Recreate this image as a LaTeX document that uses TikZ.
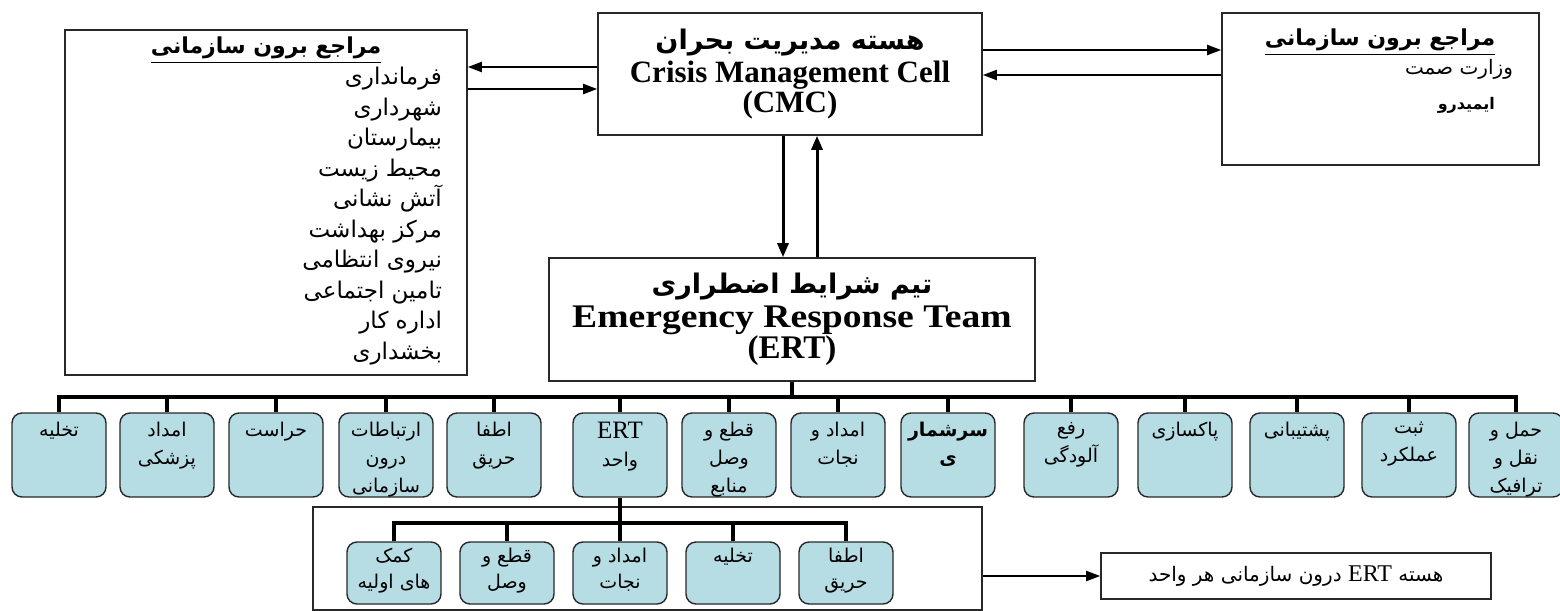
\documentclass[tikz,border=0pt]{standalone}
\usepackage{fontspec}
\usepackage{graphicx}
\setmainfont{Liberation Serif}
\newfontfamily\farsi[Script=Arabic]{DejaVu Sans}
\TeXXeTstate=1
\usetikzlibrary{arrows.meta, positioning, calc}
\definecolor{unitfill}{RGB}{183,221,228}
\definecolor{edge}{RGB}{40,40,40}
\newcommand{\rl}[1]{\leavevmode\beginR #1\endR}
\newcommand{\fab}[1]{{\farsi\bfseries\beginR #1\endR}}
\newcommand{\cell}[2][45pt]{\parbox[t][33pt][t]{#1}{\centering\farsi\fontsize{9.5}{14}\selectfont #2}}
\newcommand{\subcell}[1]{\parbox[t][25pt][t]{45pt}{\centering\farsi\fontsize{9.5}{13}\selectfont #1}}

\begin{document}
\begin{tikzpicture}[
    x=0.5pt, y=-0.5pt,
    refbox/.style={rectangle, draw=edge, line width=0.8pt, fill=white, inner sep=0pt},
    unit/.style={rectangle, draw=edge, line width=0.7pt, rounded corners=5pt, fill=unitfill, minimum width=47pt, inner xsep=1pt, inner ysep=4.5pt},
    subunit/.style={unit, inner ysep=3pt},
    arr/.style={-{Triangle[length=7pt,width=5pt]}, line width=1pt},
    varr/.style={-{Triangle[length=7pt,width=5.5pt]}, line width=1.5pt},
    branch/.style={line width=2pt}
]
\useasboundingbox (0,0) rectangle (1560,611);

% external references, left
\node[refbox, minimum width=201pt, minimum height=172.5pt] (extl) at (266,202.5) {};
\node[font=\fontsize{11}{13}\selectfont] (extltitle) at (266,50) {\underline{\fab{مراجع برون سازمانی}\rule[-3pt]{0pt}{0pt}}};
\node[font=\farsi\fontsize{11.5}{15.25}\selectfont, align=right, anchor=north east] (extllist) at (449,60)
    {\rl{فرمانداری}\\\rl{شهرداری}\\\rl{بیمارستان}\\\rl{محیط زیست}\\\rl{آتش نشانی}\\\rl{مرکز بهداشت}\\\rl{نیروی انتظامی}\\\rl{تامین اجتماعی}\\\rl{اداره کار}\\\rl{بخشداری}};

% crisis management cell
\node[refbox, minimum width=192pt, minimum height=61pt, align=center, font=\fontsize{15.5}{15}\selectfont] (cmc) at (790,74)
    {{\fontsize{13.5}{15}\selectfont\fab{هسته مدیریت بحران}}\\[1.5pt]{\bfseries Crisis Management Cell}\\{\bfseries (CMC)}};

% external references, right
\node[refbox, minimum width=158.5pt, minimum height=76pt] (extr) at (1380.5,89) {};
\node[font=\fontsize{11}{13}\selectfont] (extrtitle) at (1380,42) {\underline{\fab{مراجع برون سازمانی}\rule[-3pt]{0pt}{0pt}}};
\node[font=\farsi\fontsize{10}{12}\selectfont, anchor=east] (extr1) at (1520,69) {\rl{وزارت صمت}};
\node[font=\farsi\bfseries\fontsize{8}{10}\selectfont, anchor=east] (extr2) at (1502,105) {\rl{ایمیدرو}};

% emergency response team
\node[refbox, minimum width=243pt, minimum height=61.5pt, align=center, font=\fontsize{16.5}{15.5}\selectfont] (ert) at (792,319.5)
    {{\fontsize{13.5}{15}\selectfont\fab{تیم شرایط اضطراری}}\\[1.5pt]\scalebox{1.14}[1]{\bfseries Emergency Response Team}\\{\bfseries (ERT)}};

\draw[arr] (cmc.west |- 0,67) -- (extl.east |- 0,67);
\draw[arr] (extl.east |- 0,89) -- (cmc.west |- 0,89);
\draw[arr] (cmc.east |- 0,50) -- (extr.west |- 0,50);
\draw[arr] (extr.west |- 0,75) -- (cmc.east |- 0,75);
\draw[varr] (cmc.south -| 783,0) -- (ert.north -| 783,0);
\draw[varr] (ert.north -| 817,0) -- (cmc.south -| 817,0);

% ERT units
\node[unit] (u1) at (59,455) {\cell{\rl{تخلیه}}};
\node[unit] (u2) at (167,455) {\cell{\rl{امداد}\\\rl{پزشکی}}};
\node[unit] (u3) at (276,455) {\cell{\rl{حراست}}};
\node[unit] (u4) at (386,455) {\cell{\rl{ارتباطات}\\\rl{درون}\\\rl{سازمانی}}};
\node[unit] (u5) at (494,455) {\cell{\rl{اطفا}\\\rl{حریق}}};
\node[unit] (u6) at (620,455) {\cell{{\rmfamily\fontsize{12.5}{12}\selectfont ERT}\\\rl{واحد}}};
\node[unit] (u7) at (729,455) {\cell{\rl{قطع و}\\\rl{وصل}\\\rl{منابع}}};
\node[unit] (u8) at (838,455) {\cell{\rl{امداد و}\\\rl{نجات}}};
\node[unit] (u9) at (948,455) {\cell{\bfseries\rl{سرشمار}\\\rl{ی}}};
\node[unit] (u10) at (1071,455) {\cell{\rl{رفع}\\\rl{آلودگی}}};
\node[unit] (u11) at (1185,455) {\cell{\rl{پاکسازی}}};
\node[unit] (u12) at (1297,455) {\cell{\rl{پشتیبانی}}};
\node[unit] (u13) at (1409,455) {\cell{\rl{ثبت}\\\rl{عملکرد}}};
\node[unit] (u14) at (1516,455) {\cell[41pt]{\rl{حمل و}\\\rl{نقل و}\\\rl{ترافیک}}};

\coordinate (bus) at (ert.south |- 0,397);
\draw[branch] (ert.south) -- (bus);
\draw[branch] (bus) -| (u1.north) (bus) -| (u2.north) (bus) -| (u3.north) (bus) -| (u4.north)
    (bus) -| (u5.north) (bus) -| (u6.north) (bus) -| (u7.north) (bus) -| (u8.north)
    (bus) -| (u9.north) (bus) -| (u10.north) (bus) -| (u11.north) (bus) -| (u12.north)
    (bus) -| (u13.north) (bus) -| (u14.north);

% ERT core inside each unit
\node[refbox, minimum width=334.5pt, minimum height=51.5pt] (subframe) at (647.5,558.5) {};
\node[subunit] (s1) at (394,573) {\subcell{\rl{کمک}\\\rl{های اولیه}}};
\node[subunit] (s2) at (507,573) {\subcell{\rl{قطع و}\\\rl{وصل}}};
\node[subunit] (s3) at (620,573) {\subcell{\rl{امداد و}\\\rl{نجات}}};
\node[subunit] (s4) at (733,573) {\subcell{\rl{تخلیه}}};
\node[subunit] (s5) at (846,573) {\subcell{\rl{اطفا}\\\rl{حریق}}};

\coordinate (subbus) at (u6.south |- 0,523);
\draw[branch] (u6.south) -- (s3.north);
\draw[branch] (subbus) -| (s1.north) (subbus) -| (s2.north) (subbus) -| (s4.north) (subbus) -| (s5.north);

\node[refbox, minimum width=195pt, minimum height=23pt, font=\farsi\fontsize{10}{12}\selectfont] (note) at (1296,576)
    {\rl{هسته \beginL{\rmfamily\fontsize{12}{12}\selectfont ERT}\endL{} درون سازمانی هر واحد}};
\draw[arr] (subframe.east |- note.west) -- (note.west);

\end{tikzpicture}
\end{document}
